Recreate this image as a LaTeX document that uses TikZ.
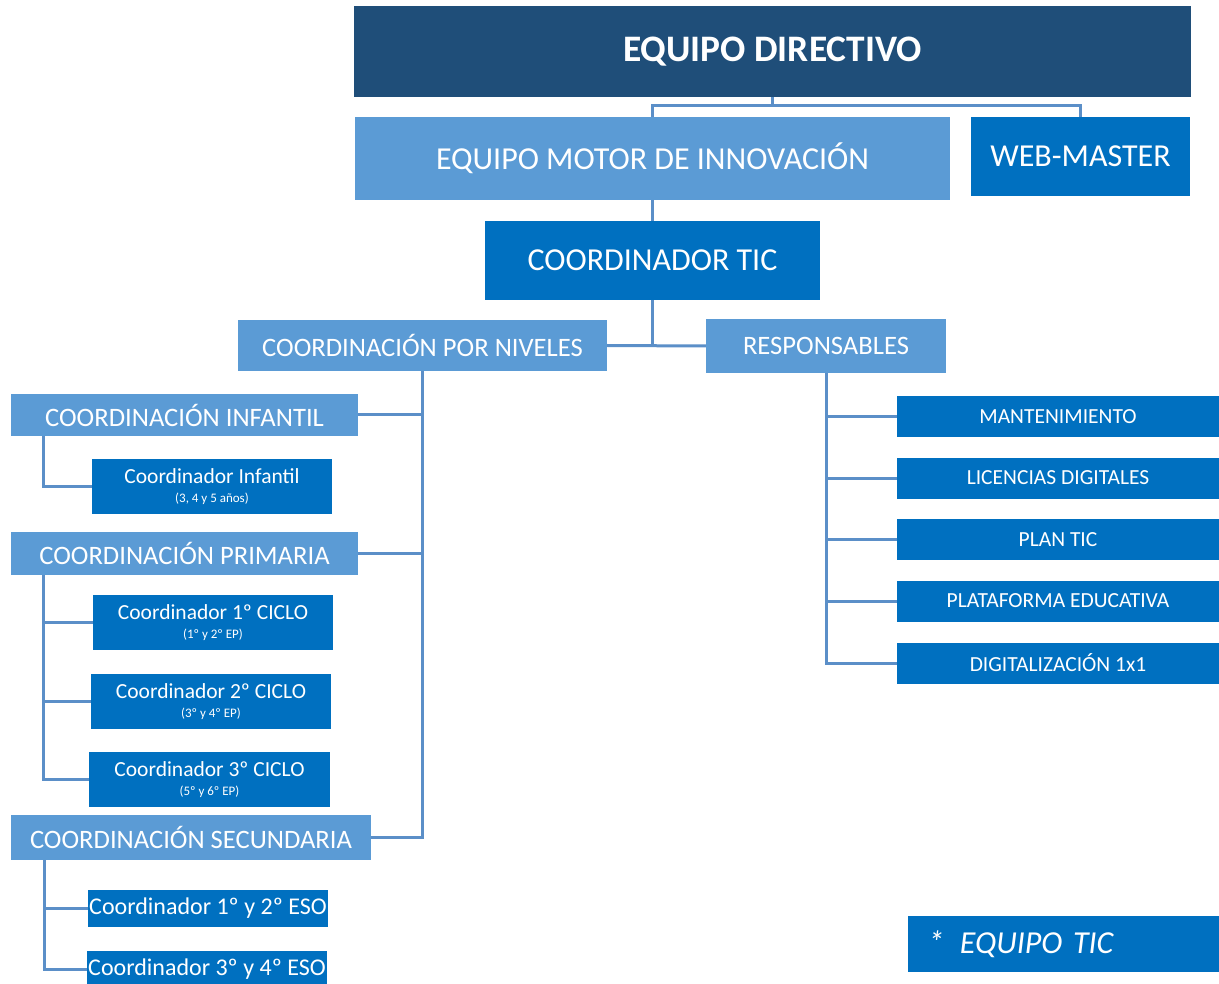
\documentclass[tikz,border=0pt]{standalone}
\usepackage{fontspec}
\setmainfont{Carlito}
\definecolor{dkblue}{HTML}{1F4E79}
\definecolor{ltblue}{HTML}{5B9BD5}
\definecolor{mdblue}{HTML}{0070C0}
\definecolor{lnblue}{HTML}{5B8FC8}
\tikzset{
  box/.style={rectangle, inner sep=0pt, text=white, align=center},
  conn/.style={draw=lnblue, line width=3pt},
  big/.style={font=\fontsize{32}{36}\selectfont},
  mid/.style={font=\fontsize{26.6}{30}\selectfont},
  sml/.style={font=\fontsize{21.5}{24}\selectfont},
}
\newcommand{\subl}[1]{\\[-5pt]{\fontsize{13}{14}\selectfont #1}}
\begin{document}
\begin{tikzpicture}[x=1pt,y=-1pt]
\useasboundingbox (0,0) rectangle (1219,984);
% top
\node[box, fill=dkblue, minimum width=837, minimum height=91, font=\fontsize{37.4}{42}\selectfont\bfseries] (ed) at (772.5,51.5) {EQUIPO DIRECTIVO};
\node[box, big, fill=ltblue, minimum width=595, minimum height=83] (emi) at (652.5,158.5) {EQUIPO MOTOR DE INNOVACIÓN};
\node[box, big, fill=mdblue, minimum width=219, minimum height=79] (wm) at (1080.5,156.5) {WEB-MASTER};
\node[box, big, fill=mdblue, minimum width=335, minimum height=79] (ctic) at (652.5,260.5) {COORDINADOR TIC};
\node[box, mid, fill=ltblue, minimum width=369, minimum height=51] (cpn) at (422.5,345.5) {COORDINACIÓN POR NIVELES};
\node[box, mid, fill=ltblue, minimum width=240, minimum height=54] (resp) at (826,346) {RESPONSABLES};
% levels
\node[box, mid, fill=ltblue, minimum width=347, minimum height=42] (cinf) at (184.5,415) {COORDINACIÓN INFANTIL};
\node[box, sml, fill=mdblue, minimum width=240, minimum height=55] (ci) at (212,486.5) {Coordinador Infantil\subl{(3, 4 y 5 años)}};
\node[box, mid, fill=ltblue, minimum width=347, minimum height=43] (cprim) at (184.5,553.5) {COORDINACIÓN PRIMARIA};
\node[box, sml, fill=mdblue, minimum width=240, minimum height=55] (c1) at (213,622.5) {Coordinador 1º CICLO\subl{(1º y 2º EP)}};
\node[box, sml, fill=mdblue, minimum width=240, minimum height=55] (c2) at (211,701.5) {Coordinador 2º CICLO\subl{(3º y 4º EP)}};
\node[box, sml, fill=mdblue, minimum width=241, minimum height=55] (c3) at (209.5,779.5) {Coordinador 3º CICLO\subl{(5º y 6º EP)}};
\node[box, mid, fill=ltblue, minimum width=360, minimum height=45] (csec) at (191,837.5) {COORDINACIÓN SECUNDARIA};
\node[box, fill=mdblue, minimum width=240, minimum height=37, font=\fontsize{24}{28}\selectfont] (e1) at (208,908.5) {Coordinador 1º y 2º ESO};
\node[box, fill=mdblue, minimum width=240, minimum height=37, font=\fontsize{24}{28}\selectfont] (e2) at (207,969.5) {Coordinador 3º y 4º ESO};
% responsables
\node[box, sml, fill=mdblue, minimum width=322, minimum height=41] (r1) at (1058,416.5) {MANTENIMIENTO};
\node[box, sml, fill=mdblue, minimum width=322, minimum height=41] (r2) at (1058,478) {LICENCIAS DIGITALES};
\node[box, sml, fill=mdblue, minimum width=322, minimum height=41] (r3) at (1058,539.5) {PLAN TIC};
\node[box, sml, fill=mdblue, minimum width=322, minimum height=41] (r4) at (1058,601) {PLATAFORMA EDUCATIVA};
\node[box, sml, fill=mdblue, minimum width=322, minimum height=41] (r5) at (1058,663) {DIGITALIZACIÓN 1x1};
% legend
\node[box, fill=mdblue, minimum width=311, minimum height=56, text width=271, align=left, inner xsep=20pt, font=\fontsize{32}{36}\selectfont\itshape] (tic) at (1063.5,944) {*\hspace{0.5em}EQUIPO TIC};
% connectors
\coordinate (j1) at ([yshift=-8]ed.south);
\draw[conn] (ed.south) -- (j1);
\draw[conn] (emi.north) |- (j1) -| (wm.north);
\draw[conn] (emi.south) -- (ctic.north);
\draw[conn] (ctic.south) -- (ctic.south |- cpn.east);
\draw[conn] (cpn.east) -- (resp.west);
\draw[conn] (cpn.south) |- (csec.east);
\draw[conn] (cinf.east) -- (cinf.east -| cpn.south);
\draw[conn] (cprim.east) -- (cprim.east -| cpn.south);
\coordinate (iv) at ([xshift=33]cinf.south west);
\draw[conn] (iv) |- (ci.west);
\coordinate (pv) at ([xshift=33]cprim.south west);
\draw[conn] (pv) |- (c3.west);
\draw[conn] (c1.west) -- (c1.west -| pv);
\draw[conn] (c2.west) -- (c2.west -| pv);
\coordinate (sv) at ([xshift=34]csec.south west);
\draw[conn] (sv) |- (e2.west);
\draw[conn] (e1.west) -- (e1.west -| sv);
\draw[conn] (resp.south) |- (r5.west);
\foreach \r in {r1,r2,r3,r4}{\draw[conn] (\r.west) -- (\r.west -| resp.south);}
\end{tikzpicture}
\end{document}
